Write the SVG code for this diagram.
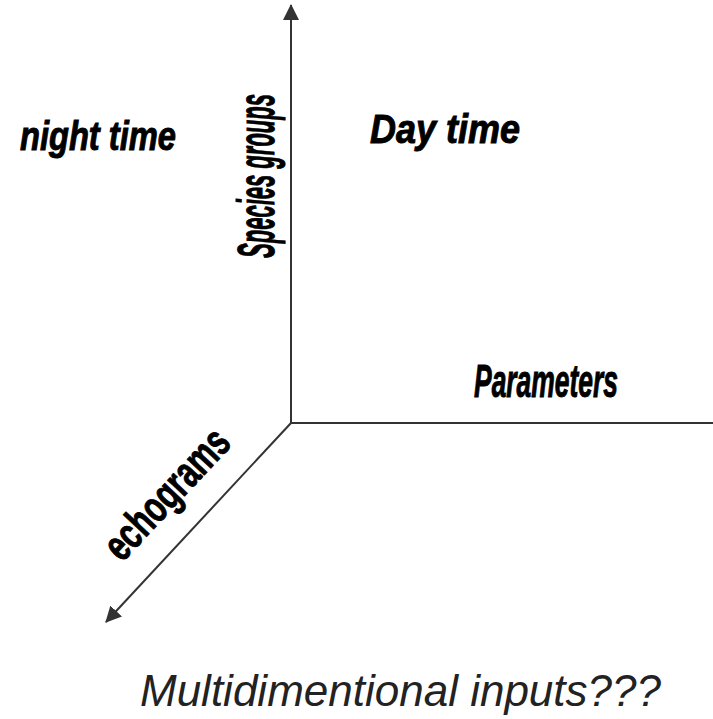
<svg xmlns="http://www.w3.org/2000/svg" width="713" height="719" viewBox="0 0 713 719">
<style>
.ax{stroke:#333;stroke-width:2;fill:none}
.lbl{font-family:"Liberation Sans",Arial,sans-serif;font-weight:bold;font-style:italic;fill:#000;stroke:#000;stroke-width:1}
.up{font-family:"Liberation Sans",Arial,sans-serif;font-weight:bold;fill:#000;stroke:#000;stroke-width:1}
.cap{font-family:"Liberation Sans",Arial,sans-serif;font-style:italic;fill:#222}
</style>
<defs>
<marker id="arr" viewBox="0 0 16 16" refX="15" refY="8" markerWidth="16" markerHeight="16" markerUnits="userSpaceOnUse" orient="auto">
<path d="M0,0 L16,8 L0,16 Z" fill="#333"/>
</marker>
</defs>
<rect width="713" height="719" fill="#fff"/>
<g id="connectors">
<line class="ax" x1="291" y1="423" x2="291" y2="5" marker-end="url(#arr)"/>
<line class="ax" x1="290" y1="423" x2="713" y2="423"/>
<line class="ax" x1="291" y1="423" x2="106" y2="622" marker-end="url(#arr)"/>
</g>
<g id="night-time"><text class="lbl" transform="translate(20,150) scale(0.816,1)" font-size="40">night time</text></g>
<g id="day-time"><text class="lbl" transform="translate(370,143) scale(0.878,1)" font-size="41">Day time</text></g>
<g id="species-groups"><text class="lbl" transform="translate(274,258) rotate(-90) scale(0.4236,1)" font-size="52">Species groups</text></g>
<g id="parameters"><text class="lbl" transform="translate(474,397) scale(0.5747,1)" font-size="46">Parameters</text></g>
<g id="echograms"><text class="up" transform="translate(122,563) rotate(-46.9) scale(0.69,1)" font-size="44">echograms</text></g>
<g id="caption"><text class="cap" x="140" y="706" font-size="44">Multidimentional inputs???</text></g>
</svg>
